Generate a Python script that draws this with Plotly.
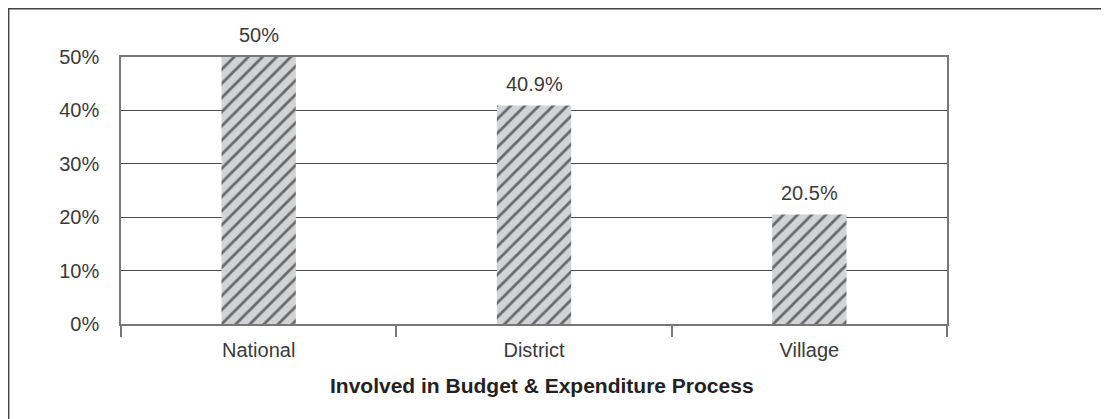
import plotly.graph_objects as go

categories = ["National", "District", "Village"]
values = [50, 40.9, 20.5]
value_labels = ["50%", "40.9%", "20.5%"]
y_ticks = [0, 10, 20, 30, 40, 50]
y_tick_labels = ["0%", "10%", "20%", "30%", "40%", "50%"]
x_title = "Involved in Budget & Expenditure Process"

FONT = "Liberation Sans, Arial, sans-serif"
TXT = "#3a3a3a"

fig = go.Figure()
fig.add_trace(go.Bar(
    x=categories, y=values, width=0.27,
    marker=dict(
        color="#d2d3d5",
        line=dict(width=0),
        pattern=dict(shape="/", fgcolor="#000000", bgcolor="#d2d3d5",
                     size=10, solidity=0.28, fillmode="overlay"),
    ),
    showlegend=False, hoverinfo="skip",
))

for c, v, t in zip(categories, values, value_labels):
    fig.add_annotation(x=c, y=v, text=t, showarrow=False, yanchor="bottom",
                       yshift=9, font=dict(family=FONT, size=20, color=TXT))

fig.add_annotation(x=0.51, xref="paper", y=-0.18, yref="paper", yanchor="top",
                   text="<b>" + x_title.replace("&", "&amp;") + "</b>", showarrow=False,
                   font=dict(family=FONT, size=21, color="#222"))

# outer frame
fig.add_shape(type="rect", xref="paper", yref="paper",
              x0=-0.136, x1=1.190, y0=-0.45, y1=1.181,
              line=dict(color="#444", width=1.5), fillcolor="rgba(0,0,0,0)")

fig.update_layout(
    width=1101, height=411,
    margin=dict(l=113, r=162, t=49, b=95),
    paper_bgcolor="white", plot_bgcolor="white",
    font=dict(family=FONT, size=20, color=TXT),
)
fig.update_yaxes(
    range=[0, 50], tickmode="array", tickvals=y_ticks, ticktext=y_tick_labels,
    showgrid=True, gridcolor="#4a4a4a", gridwidth=1,
    showline=True, linecolor="#777", linewidth=1.5, mirror=True,
    ticks="", ticklabelstandoff=16, zeroline=False,
    tickfont=dict(family=FONT, size=20, color=TXT),
)
fig.update_xaxes(
    showline=True, linecolor="#777", linewidth=1.5, mirror=True,
    ticks="outside", ticklen=11, tickcolor="#777", tickwidth=1.5,
    tickson="boundaries", showgrid=False,
    ticklabelstandoff=7,
    tickfont=dict(family=FONT, size=20, color=TXT),
)

fig.write_html("out.html")
